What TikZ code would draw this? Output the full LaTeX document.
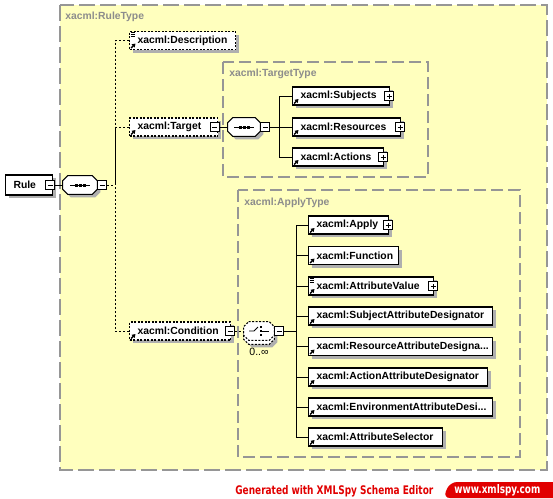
\documentclass[tikz,border=0pt]{standalone}
\usepackage{fontspec}
\setmainfont{Liberation Sans}
\newfontfamily\footfont{DejaVu Sans Condensed}
\usepackage{tikz}
\usetikzlibrary{arrows.meta, positioning, shadows}
\definecolor{typefill}{RGB}{255,255,190}
\definecolor{framegray}{RGB}{150,150,150}
\definecolor{labelgray}{RGB}{140,140,140}
\definecolor{shadowgray}{RGB}{175,175,175}
\definecolor{spyred}{RGB}{225,0,0}
\newdimen\pxu \pxu=0.02cm
\tikzset{
  boxshadow/.style={drop shadow={shadow xshift=3\pxu, shadow yshift=-3\pxu,
      fill=shadowgray, opacity=1}},
  ruleframe/.style={draw=framegray, fill=typefill, line width=0.6pt,
    dash pattern=on 16\pxu off 5\pxu},
  typeframe/.style={draw=framegray, fill=typefill, line width=0.6pt,
    dash pattern=on 12\pxu off 5\pxu},
  typelabel/.style={anchor=west, inner sep=0pt, text=labelgray,
    font=\fontsize{5.9}{7}\selectfont\bfseries},
  elembase/.style={rectangle, draw=black, fill=white, line width=0.6pt,
    anchor=west, minimum height=18\pxu, inner xsep=8\pxu, inner ysep=0pt,
    text width=#1, align=left, font=\fontsize{5.9}{7}\selectfont\bfseries,
    boxshadow},
  elem/.style={elembase=#1,
    path picture={\draw[refarrow] ([shift={(1.5\pxu,1.5\pxu)}]path picture bounding box.south west) -- ++(4.5\pxu,4.5\pxu);}},
  optelem/.style={elem=#1, dash pattern=on 2\pxu off 1.5\pxu},
  rootelem/.style={elembase=#1, minimum height=20\pxu},
  refarrow/.style={solid, line width=0.8pt, -{Triangle[length=2pt, width=2.4pt]}},
  txtmark/.style={solid, line width=0.5pt},
  pmbase/.style={rectangle, draw=black, fill=white, line width=0.5pt,
    minimum size=9\pxu, inner sep=0pt},
  minusbox/.style={pmbase,
    path picture={\draw[line width=0.5pt] ([xshift=2\pxu]path picture bounding box.west) -- ([xshift=-2\pxu]path picture bounding box.east);}},
  plusbox/.style={pmbase,
    path picture={\draw[line width=0.5pt] ([xshift=2\pxu]path picture bounding box.west) -- ([xshift=-2\pxu]path picture bounding box.east);
      \draw[line width=0.5pt] ([yshift=2\pxu]path picture bounding box.south) -- ([yshift=-2\pxu]path picture bounding box.north);}},
  % compositor place holders and their outlines
  compnode/.style={rectangle, minimum width=#1, minimum height=18\pxu, inner sep=0pt},
  octagon/.style={insert path={([xshift=5\pxu]#1.north west) -- ([xshift=-5\pxu]#1.north east)
    -- ([yshift=-5\pxu]#1.north east) -- ([yshift=5\pxu]#1.south east)
    -- ([xshift=-5\pxu]#1.south east) -- ([xshift=5\pxu]#1.south west)
    -- ([yshift=5\pxu]#1.south west) -- ([yshift=-5\pxu]#1.north west) -- cycle}},
  seqshape/.style={draw=black, fill=white, line width=0.6pt, boxshadow},
  choiceshape/.style={draw=black, fill=white, line width=0.6pt,
    dash pattern=on 2\pxu off 1.5\pxu},
  symline/.style={line width=0.5pt},
  countlabel/.style={inner sep=0pt, font=\fontsize{6}{7}\selectfont},
  conn/.style={line width=0.5pt, draw=black},
  dconn/.style={conn, dash pattern=on 2\pxu off 2\pxu}
}

\begin{document}
\begin{tikzpicture}[x=0.02cm, y=-0.02cm]
  \useasboundingbox (0,0) rectangle (553,498);

  % Type frames
  \draw[ruleframe] (60,5) rectangle (547,470);
  \node[typelabel] (ruletype) at (65,17) {xacml:RuleType};
  \draw[typeframe] (223,62) rectangle (428,177);
  \node[typelabel] (targettype) at (229,74) {xacml:TargetType};
  \draw[typeframe] (238,190) rectangle (520,457);
  \node[typelabel] (applytype) at (244,203) {xacml:ApplyType};

  % Rule and its sequence
  \node[rootelem=31\pxu] (rule) at (5,185) {Rule};
  \node[minusbox] (rulem) at ([xshift=-3\pxu]rule.east) {};
  \node[compnode=34\pxu] (seqa) at (80,185) {};
  \draw[seqshape, octagon=seqa];
  \draw[symline] ([xshift=-10\pxu]seqa.center) -- ([xshift=10\pxu]seqa.center);
  \foreach \dx in {-4,0,4}
    \fill ([xshift=\dx\pxu]seqa.center) +(-1.5\pxu,-1.5\pxu) rectangle +(1.5\pxu,1.5\pxu);
  \node[minusbox, right=0pt of seqa] (seqam) {};

  % RuleType children
  \node[optelem=90\pxu] (desc) at (129,40.5) {xacml:Description};
  \foreach \dy in {1.5,3.5,5.5}
    \draw[txtmark] ([shift={(1.5\pxu,-\dy\pxu)}]desc.north west) -- ++(4.5\pxu,0);
  \node[optelem=72\pxu] (target) at (129,127) {xacml:Target};
  \node[minusbox] (targetm) at ([xshift=-3.5\pxu]target.east) {};
  \node[optelem=85\pxu] (cond) at (129,331) {xacml:Condition};
  \node[minusbox] (condm) at ([xshift=-1\pxu]cond.east) {};

  % TargetType sequence
  \node[compnode=32\pxu] (seqb) at (244,127) {};
  \draw[seqshape, octagon=seqb];
  \draw[symline] ([xshift=-10\pxu]seqb.center) -- ([xshift=10\pxu]seqb.center);
  \foreach \dx in {-4,0,4}
    \fill ([xshift=\dx\pxu]seqb.center) +(-1.5\pxu,-1.5\pxu) rectangle +(1.5\pxu,1.5\pxu);
  \node[minusbox, right=0pt of seqb] (seqbm) {};
  \node[elem=81\pxu] (subj) at (292,96) {xacml:Subjects};
  \node[plusbox] (subjp) at ([xshift=-1\pxu]subj.east) {};
  \node[elem=92\pxu] (res) at (292,127) {xacml:Resources};
  \node[plusbox] (resp) at ([xshift=-1\pxu]res.east) {};
  \node[elem=75\pxu] (act) at (292,157) {xacml:Actions};
  \node[plusbox] (actp) at ([xshift=-1\pxu]act.east) {};

  % ApplyType choice, unbounded
  \node[compnode=30\pxu] (choiceb) at (259,335) {};
  \draw[choiceshape, boxshadow, octagon=choiceb];
  \node[compnode=30\pxu] (choice) at (259,331) {};
  \draw[choiceshape, octagon=choice];
  \draw[symline] ([xshift=-10\pxu]choice.center) -- ++(5\pxu,0) -- ++(4\pxu,4\pxu);
  \draw[symline] ([xshift=2\pxu]choice.center) -- ++(8\pxu,0);
  \foreach \dy in {-4,0,4}
    \fill ([shift={(2\pxu,\dy\pxu)}]choice.center) +(-1.3\pxu,-1.3\pxu) rectangle +(1.3\pxu,1.3\pxu);
  \node[minusbox, right=0pt of choice] (choicem) {};
  \node[countlabel] (occurs) at (259,352) {0..∞};

  \node[elem=64\pxu] (apply) at (308,225) {xacml:Apply};
  \node[plusbox] (applyp) at ([xshift=-1\pxu]apply.east) {};
  \node[elem=74\pxu] (func) at (308,255.5) {xacml:Function};
  \node[elem=109\pxu] (attrval) at (308,286) {xacml:AttributeValue};
  \foreach \dy in {1.5,3.5,5.5}
    \draw[txtmark] ([shift={(1.5\pxu,-\dy\pxu)}]attrval.north west) -- ++(4.5\pxu,0);
  \node[plusbox] (attrvalp) at ([xshift=-1\pxu]attrval.east) {};
  \node[elem=168\pxu] (subjad) at (308,316) {xacml:SubjectAttributeDesignator};
  \node[elem=168\pxu] (resad) at (308,346.5) {xacml:ResourceAttributeDesigna...};
  \node[elem=163\pxu] (actad) at (308,377) {xacml:ActionAttributeDesignator};
  \node[elem=168\pxu] (envad) at (308,407) {xacml:EnvironmentAttributeDesi...};
  \node[elem=118\pxu] (attrsel) at (308,437) {xacml:AttributeSelector};

  % Connectors
  \draw[conn] (rulem) -- (seqa);
  \coordinate (busa) at (115,185);
  \draw[dconn] (seqam.east) -- (busa);
  \draw[dconn] (desc.west) -| (busa);
  \draw[dconn] (target.west) -| (busa);
  \draw[dconn] (cond.west) -| (busa);

  \draw[conn] (targetm) -- (seqb);
  \coordinate (busb) at (279,127);
  \draw[conn] (seqbm.east) -- (busb);
  \draw[conn] (subj.west) -| (busb);
  \draw[conn] (res.west) -| (busb);
  \draw[conn] (act.west) -| (busb);

  \draw[dconn] (condm) -- (choice);
  \coordinate (busc) at (296,331);
  \draw[conn] (choicem.east) -- (busc);
  \draw[conn] (apply.west) -| (busc);
  \draw[conn] (func.west) -| (busc);
  \draw[conn] (attrval.west) -| (busc);
  \draw[conn] (subjad.west) -| (busc);
  \draw[conn] (resad.west) -| (busc);
  \draw[conn] (actad.west) -| (busc);
  \draw[conn] (envad.west) -| (busc);
  \draw[conn] (attrsel.west) -| (busc);

  % Footer
  \node[anchor=west, inner sep=0pt, text=spyred] (generated) at (235,491)
    {\resizebox{198\pxu}{9\pxu}{\footfont\bfseries Generated with XMLSpy Schema Editor}};
  \fill[spyred, rounded corners=7\pxu] (560,482) -- (450,482) -- (443,498) -- (560,498) -- cycle;
  \node[anchor=west, inner sep=0pt, text=white] (website) at (454,490)
    {\resizebox{86\pxu}{9\pxu}{\footfont\bfseries www.xmlspy.com}};
\end{tikzpicture}
\end{document}
